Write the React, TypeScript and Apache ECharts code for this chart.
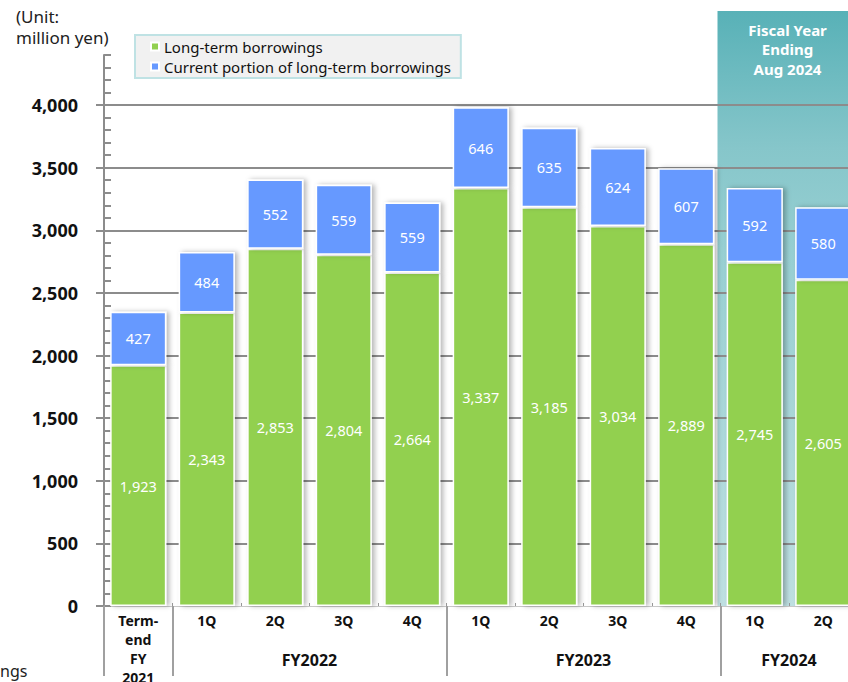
import React, { useEffect, useRef } from "react";
import * as echarts from "echarts";

const FONT = "'Noto Sans', 'Open Sans', sans-serif";

const categories = [
  "FY2021 Term-end",
  "FY2022 1Q",
  "FY2022 2Q",
  "FY2022 3Q",
  "FY2022 4Q",
  "FY2023 1Q",
  "FY2023 2Q",
  "FY2023 3Q",
  "FY2023 4Q",
  "FY2024 1Q",
  "FY2024 2Q",
];
const categoryLabels = ["Term-\nend\nFY\n2021", "1Q", "2Q", "3Q", "4Q", "1Q", "2Q", "3Q", "4Q", "1Q", "2Q"];
const longTerm = [1923, 2343, 2853, 2804, 2664, 3337, 3185, 3034, 2889, 2745, 2605];
const currentPortion = [427, 484, 552, 559, 559, 646, 635, 624, 607, 592, 580];
const seriesNames = ["Long-term borrowings", "Current portion of long-term borrowings"];
const groupLabels = ["FY2022", "FY2023", "FY2024"];
const groupCenters = [3, 7, 10];
const groupSeparators = [0, 1, 5, 9];
const highlightStart = 9;
const yMax = 4400;
const yInterval = 500;
const yMinorInterval = 100;

const fmt = (v: number) => Number(v).toLocaleString("en-US");

export default function App() {
  const ref = useRef<HTMLDivElement>(null);
  useEffect(() => {
    if (!ref.current) return;
    const chart = echarts.init(ref.current, undefined, { renderer: "svg" });
    const barItem = (color: string) => ({
      color,
      borderColor: "#ffffff",
      borderWidth: 1.5,
      shadowBlur: 5,
      shadowOffsetX: 3,
      shadowOffsetY: 0,
      shadowColor: "rgba(0,0,0,0.28)",
    });
    const label = {
      show: true,
      position: "inside",
      color: "#ffffff",
      fontSize: 14.5,
      fontFamily: FONT,
      formatter: (p: any) => fmt(p.value),
    };
    const option: any = {
      animation: false,
      textStyle: { fontFamily: FONT },
      grid: {
        left: 104,
        top: 55,
        bottom: 76,
        width: 753.5,
        containLabel: false,
        outerBoundsMode: "none",
      },
      legend: {
        data: seriesNames,
        orient: "vertical",
        left: 135,
        top: 35,
        padding: [4, 10, 4, 15],
        itemWidth: 8,
        itemHeight: 8,
        itemGap: 5,
        icon: "rect",
        backgroundColor: "#f1f1f1",
        borderColor: "#bfe2e4",
        borderWidth: 2,
        textStyle: { fontSize: 15, color: "#111", fontFamily: FONT },
      },
      xAxis: [
        {
          type: "category",
          data: categories,
          position: "bottom",
          axisLine: { show: true, onZero: false, lineStyle: { color: "#c8c8c8", width: 1 } },
          axisTick: { show: true, inside: true, length: 3, lineStyle: { color: "#999" } },
          axisLabel: {
            interval: 0,
            formatter: (_v: string, i: number) => categoryLabels[i],
            fontSize: 14,
            fontWeight: "bold",
            color: "#111",
            lineHeight: 19,
            margin: 4.5,
            fontFamily: FONT,
          },
        },
        {
          type: "value",
          min: 0,
          max: categories.length,
          position: "bottom",
          axisLine: { show: false, onZero: false },
          splitLine: { show: false },
          axisTick: {
            show: true,
            customValues: groupSeparators,
            length: 70,
            lineStyle: { color: "#a0a0a0", width: 2 },
          },
          axisLabel: {
            customValues: groupCenters,
            formatter: (v: number) => groupLabels[groupCenters.indexOf(v)] ?? "",
            margin: 44,
            fontSize: 16,
            fontWeight: "bold",
            color: "#111",
            lineHeight: 20,
            fontFamily: FONT,
          },
        },
      ],
      yAxis: [
        {
          type: "value",
          min: 0,
          max: yMax,
          interval: yInterval,
          position: "left",
          axisLine: { show: true, onZero: false, lineStyle: { color: "#8c8c8c", width: 2 } },
          axisTick: { show: true, length: 8, lineStyle: { color: "#8c8c8c", width: 2 } },
          axisLabel: {
            showMaxLabel: false,
            formatter: (v: number) => fmt(v),
            fontSize: 18,
            fontWeight: "bold",
            color: "#111",
            margin: 26,
            fontFamily: FONT,
          },
          splitLine: {
            show: true,
            showMaxLine: false,
            showMinLine: false,
            lineStyle: { color: "#8c8c8c", width: 2 },
          },
        },
        {
          type: "value",
          min: 0,
          max: yMax,
          interval: yMinorInterval,
          position: "left",
          axisLine: { show: false, onZero: false },
          axisTick: { show: true, inside: true, length: 7, lineStyle: { color: "#8c8c8c", width: 2 } },
          axisLabel: { show: false },
          splitLine: { show: false },
        },
      ],
      series: [
        {
          name: seriesNames[0],
          type: "bar",
          stack: "total",
          xAxisIndex: 0,
          yAxisIndex: 0,
          barCategoryGap: "18%",
          data: longTerm,
          itemStyle: barItem("#92d050"),
          label,
          z: 3,
        },
        {
          name: seriesNames[1],
          type: "bar",
          stack: "total",
          xAxisIndex: 0,
          yAxisIndex: 0,
          barCategoryGap: "18%",
          data: currentPortion,
          itemStyle: barItem("#6699ff"),
          label,
          z: 3,
        },
      ],
    };
    chart.setOption(option);

    const xL = chart.convertToPixel({ xAxisIndex: 1 }, highlightStart) as number;
    const xR = chart.convertToPixel({ xAxisIndex: 1 }, categories.length) as number;
    const yB = chart.convertToPixel({ yAxisIndex: 0 }, 0) as number;
    const boxTop = 11;

    chart.setOption({
      graphic: [
        {
          type: "rect",
          z: -10,
          silent: true,
          shape: { x: xL - 3, y: boxTop, width: xR - xL + 3, height: yB - boxTop },
          style: {
            fill: new echarts.graphic.LinearGradient(0, 0, 0, 1, [
              { offset: 0, color: "#58b1b7" },
              { offset: 0.23, color: "#86c6ca" },
              { offset: 0.4, color: "#97cfd2" },
              { offset: 1, color: "#bfe0e2" },
            ]),
          },
        },
        {
          type: "text",
          z: 5,
          silent: true,
          x: (xL - 3 + xR) / 2,
          y: 20,
          style: {
            text: "Fiscal Year\nEnding\nAug 2024",
            fill: "#ffffff",
            font: `bold 15px ${FONT}`,
            align: "center",
            verticalAlign: "top",
            lineHeight: 19.5,
          },
        },
        {
          type: "text",
          x: 16,
          y: 6,
          silent: true,
          style: {
            text: "(Unit:\nmillion yen)",
            fill: "#222",
            font: `17px ${FONT}`,
            lineHeight: 21,
            align: "left",
            verticalAlign: "top",
          },
        },
        {
          type: "text",
          x: 0,
          y: 663,
          silent: true,
          style: {
            text: "ngs",
            fill: "#222",
            font: `16px ${FONT}`,
            align: "left",
            verticalAlign: "top",
          },
        },
      ],
    });

    return () => chart.dispose();
  }, []);
  return (
    <div
      ref={ref}
      style={{ position: "fixed", left: 0, top: 0, width: 848, height: 682, background: "#fff" }}
    />
  );
}
